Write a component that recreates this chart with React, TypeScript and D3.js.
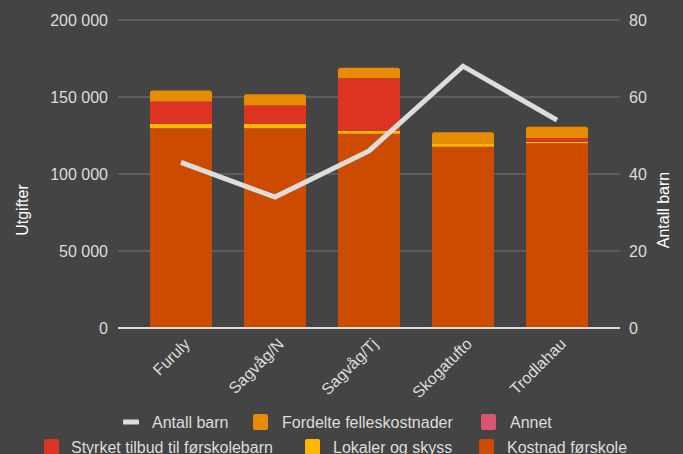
import React from "react";
import * as d3 from "d3";

const categories = ["Furuly", "Sagvåg/N", "Sagvåg/Tj", "Skogatufto", "Trodlahau"];
const kostnadForskole = [129700, 129700, 126200, 117700, 119900];
const lokalerOgSkyss = [2800, 2800, 1700, 2200, 1100];
const styrketTilbud = [14300, 11900, 34200, 0, 2400];
const annet = [500, 0, 0, 0, 0];
const fordelteFelleskostnader = [6900, 7400, 6900, 7200, 7300];
const antallBarn = [43, 34, 46, 68, 54];
const leftTicks = [0, 50000, 100000, 150000, 200000];
const rightTicks = [0, 20, 40, 60, 80];

const W = 683;
const H = 454;
const BG = "#444444";
const TXT = "#dddddd";

const seriesDefs = [
  { name: "Kostnad førskole", values: kostnadForskole, color: "#cc4b00" },
  { name: "Lokaler og skyss", values: lokalerOgSkyss, color: "#ffb800" },
  { name: "Styrket tilbud til førskolebarn", values: styrketTilbud, color: "#dd3322" },
  { name: "Annet", values: annet, color: "#d9546f" },
  { name: "Fordelte felleskostnader", values: fordelteFelleskostnader, color: "#e98b00" },
];

const fmt = (v: number) => d3.format(",")(v).replace(/,/g, " ");

function topRounded(x: number, y: number, w: number, h: number, r: number) {
  const rr = Math.min(r, h, w / 2);
  return `M${x},${y + h}V${y + rr}Q${x},${y} ${x + rr},${y}H${x + w - rr}Q${x + w},${y} ${x + w},${y + rr}V${y + h}Z`;
}

export default function App() {
  const left = 118, right = 620, top = 20, bottom = 328;
  const x = d3.scaleBand<string>().domain(categories).range([left, right]).paddingInner(0.34).paddingOuter(0.34);
  const y = d3.scaleLinear().domain([0, 200000]).range([bottom, top]);
  const y2 = d3.scaleLinear().domain([0, 80]).range([bottom, top]);

  const table = categories.map((c, i) => {
    const row: any = { cat: c };
    seriesDefs.forEach((s) => (row[s.name] = s.values[i]));
    return row;
  });
  const stack = d3.stack<any>().keys(seriesDefs.map((s) => s.name))(table);

  const line = d3
    .line<number>()
    .x((_, i) => (x(categories[i]) as number) + x.bandwidth() / 2)
    .y((d) => y2(d));

  const font = "'Liberation Sans', Arial, sans-serif";

  const legendRow1 = [
    { type: "line", label: "Antall barn", mx: 123, tx: 152, color: "#dddddd" },
    { type: "sq", label: "Fordelte felleskostnader", mx: 253, tx: 282, color: "#e98b00" },
    { type: "sq", label: "Annet", mx: 481, tx: 510, color: "#d9546f" },
  ];
  const legendRow2 = [
    { type: "sq", label: "Styrket tilbud til førskolebarn", mx: 44, tx: 71, color: "#dd3322" },
    { type: "sq", label: "Lokaler og skyss", mx: 305, tx: 333, color: "#ffb800" },
    { type: "sq", label: "Kostnad førskole", mx: 479, tx: 507, color: "#cc4b00" },
  ];

  const renderLegend = (items: any[], cy: number) =>
    items.map((it) => (
      <g key={it.label}>
        {it.type === "line" ? (
          <rect x={it.mx} y={cy - 2.5} width={16} height={5} rx={1} fill={it.color} />
        ) : (
          <rect x={it.mx} y={cy - 8} width={15} height={16} rx={2} fill={it.color} />
        )}
        <text x={it.tx} y={cy + 6} fill={TXT} fontSize={16} fontFamily={font}>
          {it.label}
        </text>
      </g>
    ));

  return (
    <svg width={W} height={H} style={{ position: "absolute", left: 0, top: 0 }}>
      <rect x={0} y={0} width={W} height={H} fill={BG} />
      {leftTicks.map((t) => (
        <line key={t} x1={left} x2={right} y1={y(t)} y2={y(t)} stroke="#777777" strokeWidth={1} />
      ))}
      {leftTicks.map((t) => (
        <text key={"l" + t} x={108} y={y(t) + 6} textAnchor="end" fill={TXT} fontSize={16} fontFamily={font}>
          {fmt(t)}
        </text>
      ))}
      {rightTicks.map((t) => (
        <text key={"r" + t} x={629} y={y2(t) + 6} textAnchor="start" fill={TXT} fontSize={16} fontFamily={font}>
          {t}
        </text>
      ))}
      <text transform={`translate(28,210) rotate(-90)`} textAnchor="middle" fill="#ffffff" fontSize={16} fontFamily={font}>
        Utgifter
      </text>
      <text transform={`translate(669,210) rotate(-90)`} textAnchor="middle" fill="#ffffff" fontSize={16} fontFamily={font}>
        Antall barn
      </text>
      {categories.map((c, i) => {
        let topIdx = -1;
        stack.forEach((s, k) => {
          if (s[i][1] - s[i][0] > 0) topIdx = k;
        });
        return (
          <g key={c}>
            {stack.map((s, k) => {
              const d = s[i];
              if (d[1] - d[0] <= 0) return null;
              const bx = x(c) as number;
              const by = y(d[1]);
              const bh = y(d[0]) - y(d[1]);
              const p = k === topIdx ? topRounded(bx, by, x.bandwidth(), bh, 2.5) : `M${bx},${by}h${x.bandwidth()}v${bh}h${-x.bandwidth()}Z`;
              return <path key={k} d={p} fill={seriesDefs[k].color} />;
            })}
          </g>
        );
      })}
      <line x1={left} x2={right} y1={bottom} y2={bottom} stroke="#dddddd" strokeWidth={2} />
      <path d={line(antallBarn) || ""} fill="none" stroke="#dddddd" strokeWidth={5} strokeLinejoin="miter" />
      {categories.map((c) => {
        const cx = (x(c) as number) + x.bandwidth() / 2 + 10;
        return (
          <text key={"x" + c} transform={`translate(${cx},${345}) rotate(-45)`} textAnchor="end" fill={TXT} fontSize={16} fontFamily={font}>
            {c}
          </text>
        );
      })}
      {renderLegend(legendRow1, 422)}
      {renderLegend(legendRow2, 447)}
    </svg>
  );
}
